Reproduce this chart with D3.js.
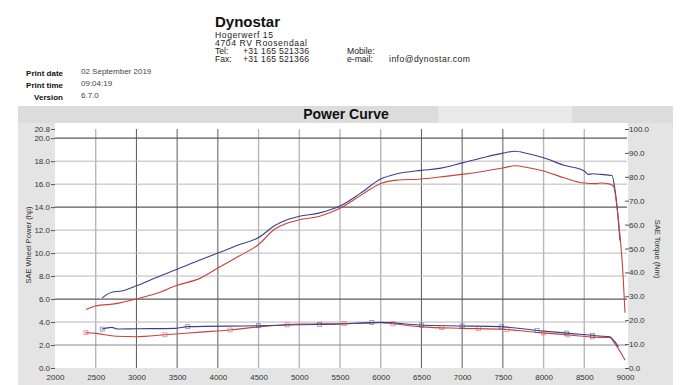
<!DOCTYPE html>
<html>
<head>
<meta charset="utf-8">
<script src="https://cdn.jsdelivr.net/npm/d3@7"></script>
<style>
  body { margin: 0; background: #fff; }
  svg { display: block; font-family: Arial, "Liberation Sans", sans-serif; }
</style>
</head>
<body>
<svg id="chart" width="696" height="385"></svg>
<script>
// power (hp) vs rpm
var powerBlueRpm = [2580, 2650, 2700, 2820, 3000, 3250, 3500, 3780, 4000, 4250, 4500, 4700, 4850, 5000, 5250, 5500, 5750, 6000, 6200, 6500, 6700, 7000, 7250, 7500, 7650, 7800, 8000, 8250, 8500, 8550, 8600, 8700, 8840, 8877, 8914, 8938];
var powerBlueHp  = [6.1, 6.45, 6.6, 6.7, 7.15, 7.9, 8.6, 9.4, 10.0, 10.7, 11.35, 12.4, 12.9, 13.2, 13.5, 14.1, 15.2, 16.45, 16.9, 17.2, 17.35, 17.85, 18.3, 18.7, 18.87, 18.67, 18.3, 17.65, 17.15, 16.85, 16.9, 16.85, 16.75, 15.5, 13.2, 11.1];

var powerRedRpm = [2380, 2500, 2750, 3000, 3250, 3500, 3780, 4000, 4250, 4500, 4700, 4850, 5000, 5250, 5500, 5750, 6000, 6200, 6500, 6700, 7000, 7250, 7500, 7650, 7800, 8000, 8250, 8500, 8650, 8700, 8816, 8860, 8914, 8975, 9000];
var powerRedHp  = [5.1, 5.4, 5.6, 6.0, 6.5, 7.2, 7.8, 8.7, 9.7, 10.75, 12.1, 12.6, 12.9, 13.2, 13.9, 15.0, 16.05, 16.35, 16.45, 16.6, 16.85, 17.1, 17.4, 17.6, 17.45, 17.15, 16.55, 16.1, 16.05, 16.1, 16.0, 15.8, 13.2, 8.2, 4.8];

// torque (Nm) vs rpm
var torqueBlueRpm = [2573, 2696, 2773, 3000, 3480, 3630, 4500, 5000, 5500, 5890, 6000, 6475, 6965, 7460, 7950, 8320, 8685, 8810, 8875, 8920];
var torqueBlueNm  = [16.2, 17.0, 16.3, 16.4, 16.6, 17.3, 17.7, 18.1, 18.4, 19.0, 19.1, 18.0, 17.6, 17.3, 15.6, 14.5, 13.4, 13.1, 11.0, 8.8];

var torqueRedRpm = [2373, 2500, 2750, 3000, 3350, 3780, 4150, 4500, 5000, 5500, 6000, 6150, 6500, 7000, 7500, 7950, 8320, 8685, 8810, 8870, 9000];
var torqueRedNm  = [14.8, 14.5, 13.3, 13.1, 13.9, 15.0, 15.9, 17.2, 18.4, 18.5, 19.0, 18.5, 17.2, 16.6, 16.2, 14.8, 13.8, 12.8, 12.8, 10.5, 3.3];

// rpm where the torque runs carry a square marker
var markerBlueRpm = [2580, 3630, 4500, 5250, 5890, 6500, 7000, 7480, 7920, 8280, 8600];
var markerRedRpm  = [2380, 3350, 4150, 4850, 5550, 6150, 6750, 7200, 7550, 8000, 8300, 8600];

var rpmTicks = [2000, 2500, 3000, 3500, 4000, 4500, 5000, 5500, 6000, 6500, 7000, 7500, 8000, 8500, 9000];
var powerTicks = [0, 2, 4, 6, 8, 10, 12, 14, 16, 18, 20, 20.8];
var torqueTicks = [0, 10, 20, 30, 40, 50, 60, 70, 80, 90, 100];

var headerLines = ["Hogerwerf 15", "4704 RV Roosendaal"];
var contactLabels = ["Tel:", "Fax:"];
var contactValues = ["+31 165 521336", "+31 165 521366"];
var printLabels = ["Print date", "Print time", "Version"];
var printValues = ["02 September 2019", "09:04:19", "6.7.0"];

var svg = d3.select("#chart");
var blue = "#3b3f8e", red = "#c7433d";

// header block (tight line spacing like the print)
svg.append("text").attr("x", 215).attr("y", 27).text("Dynostar")
  .attr("font-size", 15).attr("font-weight", "bold").attr("fill", "#111");
headerLines.forEach(function(t, i) {
  svg.append("text").attr("x", 215).attr("y", 37.5 + i * 8.3).text(t)
    .attr("font-size", 8.6).attr("textLength", i == 0 ? 58 : 92).attr("fill", "#222");
});
for (i = 0; i < contactLabels.length; i++) {
  svg.append("text").attr("x", 215).attr("y", 54 + i * 8.3).text(contactLabels[i])
    .attr("font-size", 8.6).attr("fill", "#222");
  svg.append("text").attr("x", 243).attr("y", 54 + i * 8.3).text(contactValues[i])
    .attr("font-size", 8.6).attr("textLength", 66).attr("fill", "#222");
}
svg.append("text").attr("x", 347).attr("y", 54).text("Mobile:").attr("font-size", 8.6).attr("fill", "#222");
svg.append("text").attr("x", 347).attr("y", 62.3).text("e-mail:").attr("font-size", 8.6).attr("fill", "#222");
svg.append("text").attr("x", 389).attr("y", 62.3).text("info@dynostar.com").attr("font-size", 8.6)
  .attr("textLength", 81).attr("fill", "#222");

for (i = 0; i < printLabels.length; i++) {
  svg.append("text").attr("x", 63).attr("y", 75.5 + i * 12).text(printLabels[i])
    .attr("text-anchor", "end").attr("font-size", 8).attr("font-weight", "bold").attr("fill", "#111");
  svg.append("text").attr("x", 81).attr("y", 74 + i * 12).text(printValues[i])
    .attr("font-size", 8).attr("fill", "#444");
}

// chart panel
svg.append("rect").attr("x", 18).attr("y", 106).attr("width", 655).attr("height", 279).attr("fill", "#e4e4e4");
svg.append("rect").attr("x", 18).attr("y", 106).attr("width", 655).attr("height", 17).attr("fill", "#dcdcdc");
svg.append("rect").attr("x", 438).attr("y", 106).attr("width", 134).attr("height", 17).attr("fill", "#e9e9e9");
svg.append("text").attr("x", 346).attr("y", 119).text("Power Curve")
  .attr("text-anchor", "middle").attr("font-size", 14).attr("font-weight", "bold").attr("fill", "#111");
svg.append("rect").attr("x", 55).attr("y", 123).attr("width", 573).attr("height", 245).attr("fill", "#fff");

var x = d3.scaleLinear().domain([2000, 9000]).range([55, 625]);
var yP = d3.scaleLinear().domain([0, 20.8]).range([368, 129]);
var yT = d3.scaleLinear().domain([0, 100]).range([368, 129]);

// grid (scan shows some lines darker than others)
var darkRpm = [3000, 3500, 4000, 6500, 7000, 7500];
var darkHp = [20, 14, 6];
svg.append("g").selectAll("line").data(rpmTicks.slice(1, -1)).join("line")
  .attr("x1", function(d) { return x(d); }).attr("x2", function(d) { return x(d); })
  .attr("y1", 129).attr("y2", 368)
  .attr("stroke", function(d) { return darkRpm.indexOf(d) >= 0 ? "#5a5a5a" : "#b8b8b8"; })
  .attr("stroke-width", function(d) { return darkRpm.indexOf(d) >= 0 ? 1 : 1.4; });
svg.append("g").selectAll("line").data(powerTicks.slice(1, -1)).join("line")
  .attr("x1", 55).attr("x2", 627)
  .attr("y1", function(d) { return yP(d); }).attr("y2", function(d) { return yP(d); })
  .attr("stroke", function(d) { return darkHp.indexOf(d) >= 0 ? "#5a5a5a" : (d == 2 ? "#8a8a8a" : "#b8b8b8"); })
  .attr("stroke-width", function(d) { return darkHp.indexOf(d) >= 0 ? 1.2 : 1; });

// axes
var axL = svg.append("g").attr("transform", "translate(55,0)")
  .call(d3.axisLeft(yP).tickValues(powerTicks).tickFormat(d3.format(".1f")).tickSize(4).tickPadding(1));
var axR = svg.append("g").attr("transform", "translate(625,0)")
  .call(d3.axisRight(yT).tickValues(torqueTicks).tickFormat(d3.format(".1f")).tickSize(4).tickPadding(0));
var axB = svg.append("g").attr("transform", "translate(0,368)")
  .call(d3.axisBottom(x).tickValues(rpmTicks).tickFormat(d3.format("d")).tickSize(0).tickPadding(6));
[axL, axR, axB].forEach(function(a) {
  a.select(".domain").remove();
  a.selectAll("line").attr("stroke", "#555");
  a.selectAll("text").attr("font-size", 8).attr("fill", "#333").attr("font-family", "Arial, 'Liberation Sans', sans-serif");
});

svg.append("text").attr("transform", "translate(31,245) rotate(-90)").text("SAE Wheel Power (hp)")
  .attr("text-anchor", "middle").attr("font-size", 7.5).attr("fill", "#333");
svg.append("text").attr("transform", "translate(655,249) rotate(90)").text("SAE Torque (Nm)")
  .attr("text-anchor", "middle").attr("font-size", 7.5).attr("fill", "#333");

// curves
function drawRun(rpm, vals, yScale, color) {
  var pts = rpm.map(function(r, i) { return [r, vals[i]]; });
  svg.append("path").datum(pts)
    .attr("d", d3.line().curve(d3.curveMonotoneX)
      .x(function(d) { return x(d[0]); }).y(function(d) { return yScale(d[1]); }))
    .attr("fill", "none").attr("stroke", color).attr("stroke-width", 1.1);
}
drawRun(powerBlueRpm, powerBlueHp, yP, blue);
drawRun(powerRedRpm, powerRedHp, yP, red);
drawRun(torqueRedRpm, torqueRedNm, yT, red);
drawRun(torqueBlueRpm, torqueBlueNm, yT, blue);

function drawMarkers(mRpm, rpm, vals, color) {
  var interp = d3.scaleLinear().domain(rpm).range(vals);
  svg.append("g").selectAll("rect").data(mRpm).join("rect")
    .attr("x", function(d) { return x(d) - 2; })
    .attr("y", function(d) { return yT(interp(d)) - 2; })
    .attr("width", 4).attr("height", 4)
    .attr("fill", "none").attr("stroke", color).attr("stroke-opacity", 0.6).attr("stroke-width", 0.8);
}
drawMarkers(markerRedRpm, torqueRedRpm, torqueRedNm, red);
drawMarkers(markerBlueRpm, torqueBlueRpm, torqueBlueNm, blue);
</script>
</body>
</html>
